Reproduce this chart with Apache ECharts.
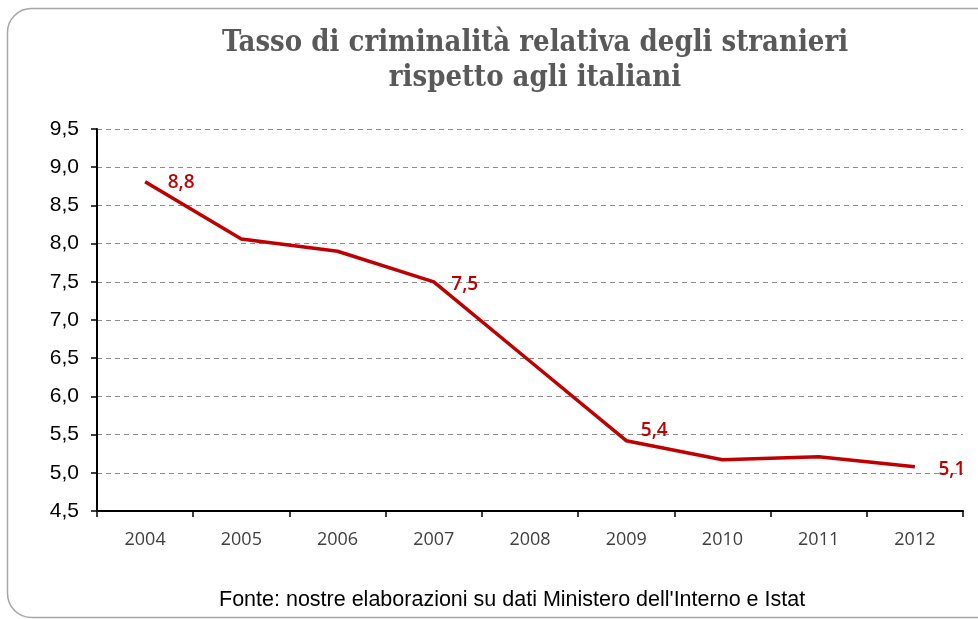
<!DOCTYPE html>
<html>
<head>
<meta charset="utf-8">
<script src="https://cdn.jsdelivr.net/npm/echarts@6/dist/echarts.min.js"></script>
<style>
    html, body { margin: 0; padding: 0; background: #fff; }
    #chart { width: 978px; height: 619px; }
</style>
</head>
<body>
<div id="chart"></div>
<script>
    // dati
    var anni = ['2004', '2005', '2006', '2007', '2008', '2009', '2010', '2011', '2012'];
    var tasso = [8.81, 8.06, 7.90, 7.50, 6.46, 5.42, 5.17, 5.21, 5.08];
    // punti con etichetta e spostamento dell'etichetta
    var etichette = [0, 3, 5, 8];
    var spostamenti = [[36, 1], [31, 3], [28, -10], [37, 3]];

    var chart = echarts.init(document.getElementById('chart'));

    var dati = tasso.map(function (v, i) {
        var k = etichette.indexOf(i);
        if (k < 0) return v;
        return {
            value: v,
            label: {
                show: true,
                position: 'inside',
                offset: spostamenti[k]
            }
        };
    });

    chart.setOption({
        animation: false,
        title: {
            text: 'Tasso di criminalità relativa degli stranieri\nrispetto agli italiani',
            left: 530,
            textAlign: 'center',
            top: 21,
            textStyle: {
                fontFamily: 'DejaVu Serif Condensed, DejaVu Serif',
                fontWeight: 'bold',
                fontSize: 29,
                lineHeight: 35,
                color: '#595959'
            }
        },
        graphic: [
            {
                type: 'rect',
                shape: { x: 7.5, y: 8.5, width: 1000, height: 609, r: 24 },
                style: { fill: 'none', stroke: '#a6a6a6', lineWidth: 1.5 },
                silent: true
            },
            {
                type: 'text',
                left: 219,
                top: 589,
                style: {
                    text: "Fonte: nostre elaborazioni su dati Ministero dell'Interno e Istat",
                    font: '21.5px "Liberation Sans"',
                    fill: '#000'
                }
            }
        ],
        grid: { left: 97, right: 15, top: 129, bottom: 108 },
        xAxis: {
            type: 'category',
            data: anni,
            boundaryGap: true,
            axisLine: { lineStyle: { color: '#000', width: 2 } },
            axisTick: { show: true, length: 6, lineStyle: { color: '#000', width: 1.5 } },
            axisLabel: {
                margin: 20,
                fontFamily: 'Open Sans',
                fontSize: 18,
                color: '#404040'
            }
        },
        yAxis: {
            type: 'value',
            min: 4.5,
            max: 9.5,
            interval: 0.5,
            axisLine: { show: true, lineStyle: { color: '#000', width: 2 } },
            axisTick: { show: true, length: 6, lineStyle: { color: '#000', width: 1.5 } },
            axisLabel: {
                margin: 18,
                fontFamily: 'Liberation Sans',
                fontSize: 21,
                color: '#000',
                formatter: function (v) { return v.toFixed(1).replace('.', ','); }
            },
            splitLine: {
                lineStyle: { color: '#8c8c8c', type: [5, 4], width: 1 }
            }
        },
        series: [{
            type: 'line',
            data: dati,
            showSymbol: true,
            symbol: 'circle',
            symbolSize: 0,
            lineStyle: { color: '#C00000', width: 3.5 },
            itemStyle: { color: '#C00000' },
            label: {
                show: false,
                fontFamily: 'Open Sans',
                fontWeight: 600,
                fontSize: 19,
                color: '#C00000',
                formatter: function (p) { return p.value.toFixed(1).replace('.', ','); }
            }
        }]
    });
</script>
</body>
</html>
